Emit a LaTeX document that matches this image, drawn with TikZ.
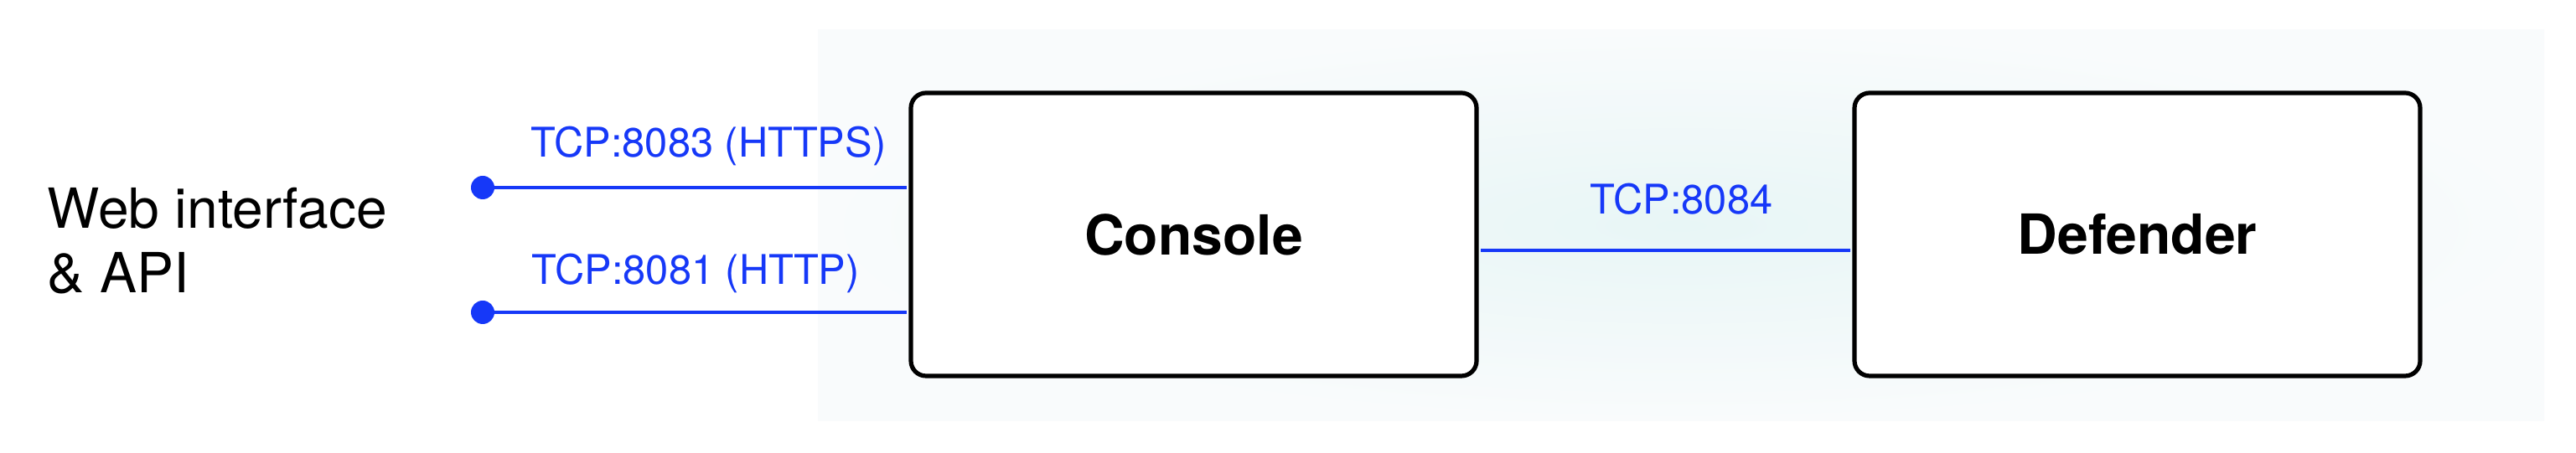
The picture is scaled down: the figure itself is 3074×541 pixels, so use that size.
\documentclass[tikz,border=0pt]{standalone}
\usepackage{fontspec}
\setmainfont{TeX Gyre Heros}
\definecolor{linkblue}{RGB}{22,56,248}
\definecolor{bgin}{RGB}{232,246,246}
\definecolor{bgout}{RGB}{249,251,252}
\begin{document}
\begin{tikzpicture}[x=0.25pt,y=-0.25pt,
  box/.style={draw=black, line width=1.3pt, rounded corners=4.5pt, fill=white,
    minimum width=168.75pt, minimum height=84.5pt, inner sep=0pt,
    font=\fontsize{16.5}{20}\selectfont\bfseries},
  link/.style={draw=linkblue, line width=1.2pt},
  dot/.style={circle, fill=linkblue, inner sep=0pt, minimum size=7pt},
  lbl/.style={text=linkblue, font=\fontsize{12.2}{14}\selectfont, inner sep=0pt, anchor=base west}]
\useasboundingbox (0,0) rectangle (3074,541);
\fill[white] (0,0) rectangle (3074,541);
\shade[inner color=bgin, outer color=bgout] (976,36) rectangle (3036,503);
\node[box] (console) at (1424.5,280) {Console};
\node[box] (defender) at (2550.5,280) {Defender};
\node[dot] (d1) at (576,224) {};
\node[dot] (d2) at (576,373) {};
\draw[link, shorten >=0.6pt] (d1.center) -- (d1.center -| console.west);
\draw[link, shorten >=0.6pt] (d2.center) -- (d2.center -| console.west);
\draw[link, shorten <=0.6pt, shorten >=0.6pt] ([yshift=-4.75pt]console.east) -- ([yshift=-4.75pt]defender.west);
\node[lbl] (l1) at (633,188) {TCP:8083 (HTTPS)};
\node[lbl] (l2) at (634,340) {TCP:8081 (HTTP)};
\node[lbl] (l3) at (1897,256) {TCP:8084};
\node[anchor=north west, inner sep=0pt, align=left, font=\fontsize{16.5}{19.25}\selectfont] (web) at (56,223) {Web interface\\\& API};
\end{tikzpicture}
\end{document}
